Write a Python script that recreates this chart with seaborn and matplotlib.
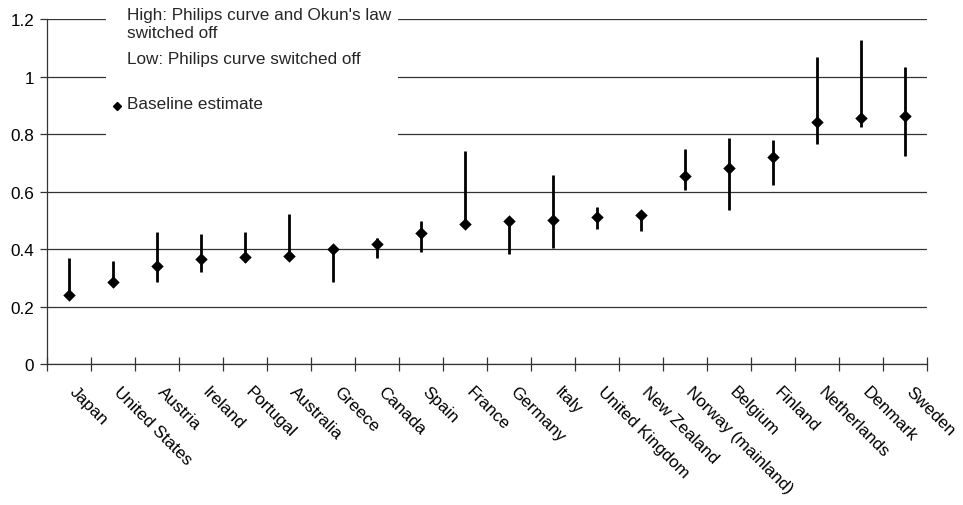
import numpy as np
import pandas as pd
import matplotlib
matplotlib.use("Agg")
import matplotlib.pyplot as plt
import matplotlib.transforms as mtransforms
from matplotlib.patches import Rectangle
from matplotlib.lines import Line2D
import seaborn as sns

countries = ["Japan", "United States", "Austria", "Ireland", "Portugal", "Australia",
             "Greece", "Canada", "Spain", "France", "Germany", "Italy",
             "United Kingdom", "New Zealand", "Norway (mainland)", "Belgium",
             "Finland", "Netherlands", "Denmark", "Sweden"]
baseline = [0.240, 0.284, 0.342, 0.365, 0.371, 0.374, 0.400, 0.417, 0.455, 0.488,
            0.496, 0.501, 0.512, 0.519, 0.655, 0.683, 0.721, 0.841, 0.857, 0.864]
high = [0.367, 0.360, 0.460, 0.451, 0.460, 0.521, 0.400, 0.440, 0.496, 0.742,
        0.496, 0.659, 0.545, 0.519, 0.748, 0.785, 0.780, 1.069, 1.127, 1.032]
low = [0.240, 0.284, 0.286, 0.319, 0.354, 0.374, 0.284, 0.368, 0.390, 0.488,
       0.383, 0.403, 0.470, 0.461, 0.606, 0.537, 0.623, 0.765, 0.823, 0.725]
y_ticks = [0, 0.2, 0.4, 0.6, 0.8, 1.0, 1.2]
y_tick_labels = ["0", "0.2", "0.4", "0.6", "0.8", "1", "1.2"]
legend_high = "High: Philips curve and Okun's law\nswitched off"
legend_low = "Low: Philips curve switched off"
legend_base = "Baseline estimate"

FS = 12.3

sns.set_theme(style="white")
plt.rcParams["font.family"] = ["Liberation Sans", "DejaVu Sans"]
plt.rcParams["font.size"] = FS

df = pd.DataFrame({"country": countries, "baseline": baseline,
                   "high": high, "low": low})
df["pos"] = np.arange(len(df))

fig = plt.figure(figsize=(9.63, 5.06), dpi=100)
W, H = 963, 506
x0, x1 = 46.7, 926.7
y0, y1 = 365, 20
ax = fig.add_axes([x0 / W, 1 - y0 / H, (x1 - x0) / W, (y0 - y1) / H])

# ranges
ax.vlines(df["pos"], df["low"], df["high"], color="black", lw=2.0, zorder=3)
# baseline points
sns.scatterplot(data=df, x="pos", y="baseline", marker="D", color="black",
                s=40, edgecolor="black", linewidth=0, ax=ax, zorder=4, legend=False)

ax.set_xlim(-0.5, len(df) - 0.5)
ax.set_ylim(0, 1.2)
ax.set_yticks(y_ticks)
ax.set_yticklabels(y_tick_labels)
ax.set_xticks(df["pos"])
ax.set_xticklabels(df["country"], rotation=-45, ha="left", va="top",
                   rotation_mode="anchor")
ax.set_xticks(np.arange(-0.5, len(df), 1.0), minor=True)
ax.tick_params(axis="x", which="major", length=0, pad=14, labelsize=FS, colors="black")
ax.tick_params(axis="x", which="minor", length=10, direction="inout", width=0.9,
               color="#333333", bottom=True)
ax.tick_params(axis="y", length=5, direction="out", width=0.9, color="#333333",
               pad=4, labelsize=FS, left=True, labelcolor="black")
offset = mtransforms.ScaledTranslation(9 / 100, 0, fig.dpi_scale_trans)
for lbl in ax.get_xticklabels():
    lbl.set_transform(lbl.get_transform() + offset)

ax.set_xlabel("")
ax.set_ylabel("")
ax.yaxis.grid(True, color="#333333", lw=0.9)
ax.set_axisbelow(True)
for side in ["top", "right"]:
    ax.spines[side].set_visible(False)
for side in ["left", "bottom"]:
    ax.spines[side].set_color("#333333")
    ax.spines[side].set_linewidth(0.9)

# legend area (white box over the gridlines)
bx0 = (106 - x0) / (x1 - x0)
bx1 = (398 - x0) / (x1 - x0)
by0 = (y0 - 142) / (y0 - y1)
ax.add_patch(Rectangle((bx0, by0), bx1 - bx0, 1.1 - by0, transform=ax.transAxes,
                       facecolor="white", edgecolor="none", zorder=1, clip_on=False))
fig.text(127 / W, 1 - 8 / H, legend_high, ha="left", va="top", fontsize=FS,
         linespacing=1.22)
fig.text(127 / W, 1 - 52 / H, legend_low, ha="left", va="top", fontsize=FS)
fig.text(127 / W, 1 - 97 / H, legend_base, ha="left", va="top", fontsize=FS)
fig.add_artist(Line2D([117 / W], [1 - 107 / H], marker="D", color="black",
                      markersize=4.3, linestyle="none", transform=fig.transFigure))

fig.savefig("out.png", dpi=100, facecolor="white")
